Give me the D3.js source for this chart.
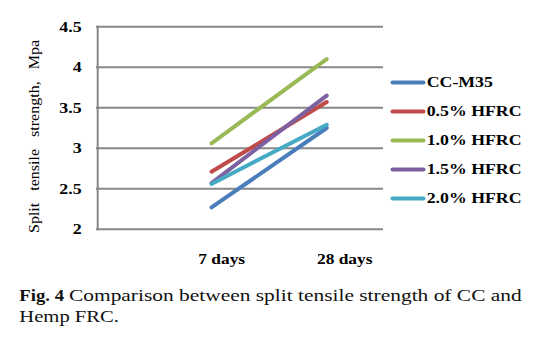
<!DOCTYPE html>
<html>
<head>
<meta charset="utf-8">
<script src="https://cdn.jsdelivr.net/npm/d3@7"></script>
<style>
html,body{margin:0;padding:0;background:#fff;}
svg{display:block;}
svg text{font-family:"Liberation Serif","Times New Roman",Times,serif;}
</style>
</head>
<body>
<svg id="chart" width="539" height="344"></svg>
<script>
// ---- data ----
const categories = ["7 days", "28 days"];
const seriesNames = ["CC-M35", "0.5% HFRC", "1.0% HFRC", "1.5% HFRC", "2.0% HFRC"];
const ccM35   = [2.27, 3.25];
const hfrc05  = [2.71, 3.57];
const hfrc10  = [3.06, 4.10];
const hfrc15  = [2.57, 3.65];
const hfrc20  = [2.56, 3.29];
const yTicks = [2, 2.5, 3, 3.5, 4, 4.5];
const yTickLabels = ["2", "2.5", "3", "3.5", "4", "4.5"];
const colors = ["#4A7EBB", "#BE4B48", "#98B954", "#7D60A0", "#46AAC5"];

const seriesValues = [ccM35, hfrc05, hfrc10, hfrc15, hfrc20];
const series = seriesNames.map((n, i) => ({name: n, values: seriesValues[i], color: colors[i]}));

const svg = d3.select("#chart");

// ---- scales ----
const y = d3.scaleLinear().domain([2, 4.5]).range([229.3, 26.7]);
const x = d3.scalePoint().domain(categories).range([211.5, 326.7]);
const xLab = d3.scalePoint().domain(categories).range([221.7, 344.7]);
const plotLeft = 97.7, plotRight = 383;

// ---- gridlines ----
svg.append("g").selectAll("line").data(yTicks).join("line")
  .attr("x1", 96).attr("x2", plotRight)
  .attr("y1", d => y(d)).attr("y2", d => y(d))
  .attr("stroke", "#878787").attr("stroke-width", 2);

// y axis line
svg.append("line")
  .attr("x1", plotLeft).attr("x2", plotLeft)
  .attr("y1", y(4.5) - 1).attr("y2", y(2) + 1)
  .attr("stroke", "#878787").attr("stroke-width", 2);

// y tick labels
svg.append("g").selectAll("text").data(yTicks).join("text")
  .attr("transform", d => `translate(81.7,${y(d) + 5}) scale(1.28,1)`)
  .attr("text-anchor", "end")
  .attr("font-weight", "bold").attr("font-size", 14)
  .attr("fill", "#000")
  .text((d, i) => yTickLabels[i]);

// x labels
svg.append("g").selectAll("text").data(categories).join("text")
  .attr("transform", d => `translate(${xLab(d)},264) scale(1.24,1)`)
  .attr("text-anchor", "middle")
  .attr("font-weight", "bold").attr("font-size", 14)
  .attr("fill", "#000")
  .text(d => d);

// y axis title
svg.append("text")
  .attr("transform", "translate(38.5,136.5) rotate(-90)")
  .attr("text-anchor", "middle")
  .attr("font-size", 14.5)
  .attr("fill", "#000")
  .style("white-space", "pre")
  .attr("textLength", 193).attr("lengthAdjust", "spacingAndGlyphs")
  .text("Split   tensile   strength,   Mpa");

// ---- lines ----
const line = d3.line().x((d, i) => x(categories[i])).y(d => y(d));
svg.append("g").selectAll("path").data(series).join("path")
  .attr("d", d => line(d.values))
  .attr("fill", "none")
  .attr("stroke", d => d.color)
  .attr("stroke-width", 4)
  .attr("stroke-linecap", "round");

// ---- legend ----
const leg = svg.append("g").selectAll("g").data(series).join("g")
  .attr("transform", (d, i) => `translate(0,${82.5 + i * 29})`);
leg.append("line")
  .attr("x1", 392.5).attr("x2", 423.5).attr("y1", 0).attr("y2", 0)
  .attr("stroke", d => d.color).attr("stroke-width", 4).attr("stroke-linecap", "round");
leg.append("text")
  .attr("transform", "translate(426.7,4.8) scale(1.27,1)")
  .attr("font-weight", "bold").attr("font-size", 14)
  .attr("fill", "#000")
  .text(d => d.name);

// ---- caption ----
svg.append("text")
  .attr("x", 19.3).attr("y", 300.7)
  .attr("font-weight", "bold").attr("font-size", 17)
  .attr("fill", "#111")
  .attr("textLength", 44.7).attr("lengthAdjust", "spacingAndGlyphs")
  .text("Fig. 4");
svg.append("text")
  .attr("x", 69).attr("y", 300.7)
  .attr("font-size", 17)
  .attr("fill", "#111")
  .attr("textLength", 452.7).attr("lengthAdjust", "spacingAndGlyphs")
  .text("Comparison between split tensile strength of CC and");
svg.append("text")
  .attr("x", 19.3).attr("y", 321.7)
  .attr("font-size", 17)
  .attr("fill", "#111")
  .attr("textLength", 99.7).attr("lengthAdjust", "spacingAndGlyphs")
  .text("Hemp FRC.");
</script>
</body>
</html>
